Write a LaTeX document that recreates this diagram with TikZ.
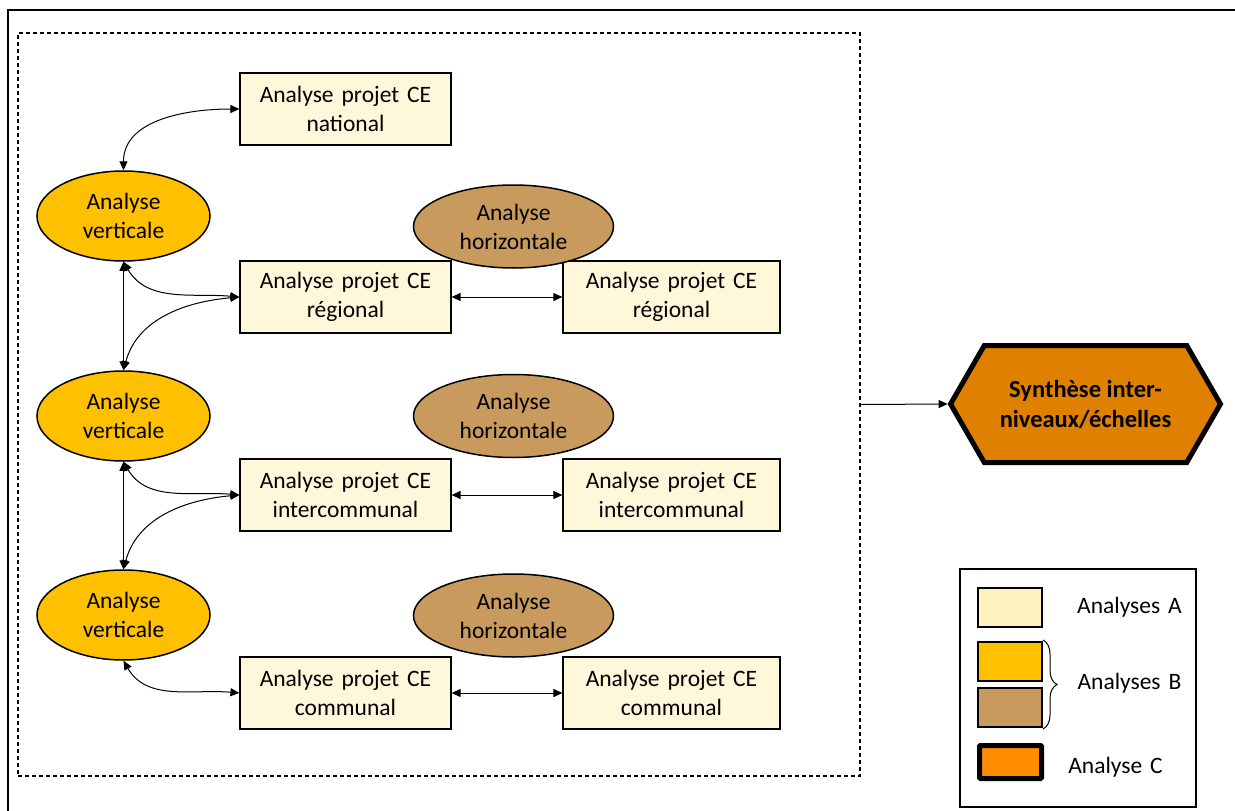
\documentclass[tikz,border=0pt]{standalone}
\usepackage{fontspec}
\setmainfont{Carlito}[WordSpace={1.5,1.2,1.2}, BoldFeatures={WordSpace={1,1,1}}]
\usetikzlibrary{shapes.geometric,shapes.symbols,arrows.meta,decorations.pathreplacing}
\definecolor{cA}{HTML}{FFF7DA}
\definecolor{cLA}{HTML}{FFF2C0}
\definecolor{cV}{HTML}{FFC000}
\definecolor{cH}{HTML}{C89A5E}
\definecolor{cHex}{HTML}{E08000}
\definecolor{cC}{HTML}{FF8C00}
\begin{document}
\begin{tikzpicture}[x=1pt,y=1pt,
  font=\fontsize{23.5}{29}\selectfont,
  boxA/.style={draw, line width=1.2pt, fill=cA, minimum width=211pt, minimum height=72pt, align=center, inner sep=0pt},
  boxB/.style={boxA, minimum width=217pt},
  vell/.style={ellipse, draw, line width=1.5pt, fill=cV, minimum width=173pt, minimum height=90pt, inner sep=0pt, align=center},
  hell/.style={ellipse, draw, line width=1.5pt, fill=cH, minimum width=200pt, minimum height=83pt, inner sep=0pt, align=center},
  arr/.style={{Triangle[length=9pt,width=8pt]}-{Triangle[length=9pt,width=8pt]}, line width=1pt},
  legbox/.style={draw, line width=1.2pt, minimum width=64pt, minimum height=39pt, inner sep=0pt},
  lbl/.style={inner sep=0pt, anchor=center}
]
\useasboundingbox (0,0) rectangle (1235,-811);
% outer frame
\draw[line width=2pt] (1235,-10) -- (8,-10) -- (8,-811);
% dashed frame
\node[draw, dashed, dash pattern=on 4pt off 3pt, line width=1.2pt, minimum width=842pt, minimum height=743pt, inner sep=0pt] (frame) at (439,-404.5) {};

% rectangles
\node[boxA] (nat) at (345.5,-109) {Analyse projet CE\\national};
\node[boxA] (regL) at (345.5,-297) {Analyse projet CE\\régional};
\node[boxB] (regR) at (671.5,-297) {Analyse projet CE\\régional};
\node[boxA] (intL) at (345.5,-495) {Analyse projet CE\\intercommunal};
\node[boxB] (intR) at (671.5,-495) {Analyse projet CE\\intercommunal};
\node[boxA] (comL) at (345.5,-693) {Analyse projet CE\\communal};
\node[boxB] (comR) at (671.5,-693) {Analyse projet CE\\communal};

% vertical ellipses
\node[vell] (v1) at (123.5,-216) {Analyse\\verticale};
\node[vell] (v2) at (123.5,-416) {Analyse\\verticale};
\node[vell] (v3) at (123.5,-615) {Analyse\\verticale};

% horizontal ellipses
\node[hell] (h1) at (513.5,-226.5) {Analyse\\horizontale};
\node[hell] (h2) at (513.5,-416) {Analyse\\horizontale};
\node[hell] (h3) at (513.5,-615.5) {Analyse\\horizontale};

% connectors
\draw[arr] (v1.north) to[out=90,in=180] (nat.west);
\draw[arr] (v1.south) to[out=-60,in=175] (regL.west);
\draw[arr] (v2.north) to[out=75,in=185] (regL.west);
\draw[arr] (v1.south) -- (v2.north);
\draw[arr] (v2.south) to[out=-60,in=175] (intL.west);
\draw[arr] (v3.north) to[out=75,in=185] (intL.west);
\draw[arr] (v2.south) -- (v3.north);
\draw[arr] (v3.south) to[out=-60,in=175] (comL.west);
\draw[arr] (regL.east) -- (regR.west);
\draw[arr] (intL.east) -- (intR.west);
\draw[arr] (comL.east) -- (comR.west);

% hexagon
\node[signal, signal to=west and east, signal pointer angle=120, draw, line width=5pt, fill=cHex, minimum width=270pt, minimum height=117pt, inner sep=0pt, align=center, font=\fontsize{24.5}{30}\selectfont\bfseries] (hex) at (1085.5,-404) {Synthèse inter-\\niveaux/échelles};
\draw[-{Triangle[length=9pt,width=8pt]}, line width=1pt] (frame.east) -- (hex.west);

% legend
\node[draw, line width=1.2pt, minimum width=236pt, minimum height=238pt, inner sep=0pt] (leg) at (1078,-688) {};
\node[legbox, fill=cLA] (lA) at (1010,-607.5) {};
\node[legbox, fill=cV] (lB1) at (1010,-661.5) {};
\node[legbox, fill=cH] (lB2) at (1010,-707.5) {};
\node[legbox, fill=cC, line width=5pt, minimum width=62pt, minimum height=33pt, rounded corners=1pt] (lC) at (1010.5,-762) {};
\node[lbl] (tA) at (1129.5,-607) {Analyses A};
\node[lbl] (tB) at (1129.5,-683) {Analyses B};
\node[lbl] (tC) at (1115.5,-767) {Analyse C};
\draw[line width=1pt, decorate, decoration={brace, amplitude=14pt}] (1043,-640) -- (1043,-729);
\end{tikzpicture}
\end{document}
